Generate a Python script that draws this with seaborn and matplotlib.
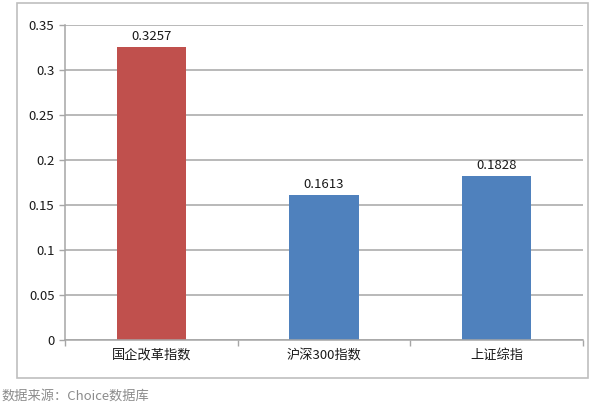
import matplotlib
matplotlib.use("Agg")
import matplotlib.pyplot as plt
import seaborn as sns
import pandas as pd
from matplotlib.patches import Rectangle
from matplotlib.ticker import FuncFormatter

categories = ["国企改革指数", "沪深300指数", "上证综指"]
values = [0.3257, 0.1613, 0.1828]
value_labels = ["0.3257", "0.1613", "0.1828"]
bar_colors = ["#C0504D", "#4F81BD", "#4F81BD"]
source_note = "数据来源：Choice数据库"

sns.set_theme(style="white")
plt.rcParams['font.family'] = ['Noto Sans CJK SC', 'DejaVu Sans']

df = pd.DataFrame({"index": categories, "value": values})

fig = plt.figure(figsize=(6, 4.2), dpi=100)
ax = fig.add_axes([0.108, 0.19, 0.864, 0.75])

sns.barplot(data=df, x="index", y="value", hue="index", palette=bar_colors,
            width=0.4, legend=False, ax=ax, saturation=1, linewidth=0)

for cont, lab in zip(ax.containers, value_labels):
    ax.bar_label(cont, labels=[lab], padding=3, fontsize=9.5, color="#1A1A1A")

ax.set_ylim(0, 0.35)
ax.set_xlim(-0.5, 2.5)
ax.set_yticks([i * 0.05 for i in range(8)])
ax.yaxis.set_major_formatter(FuncFormatter(lambda v, p: f"{round(v, 2):g}"))
ax.grid(axis="y", color="#A6A6A6", linewidth=1.1)
ax.set_axisbelow(True)
ax.set_xlabel("")
ax.set_ylabel("")

for s in ["top", "right"]:
    ax.spines[s].set_visible(False)
for s in ["left", "bottom"]:
    ax.spines[s].set_color("#A6A6A6")
    ax.spines[s].set_linewidth(1.1)

ax.tick_params(axis="y", length=4, width=1, color="#A6A6A6", labelsize=9.5, labelcolor="#1A1A1A", left=True)
ax.tick_params(axis="x", length=0, labelsize=9.5, labelcolor="#1A1A1A", pad=6)
ax.set_xticks([-0.5, 0.5, 1.5, 2.5], minor=True)
ax.tick_params(axis="x", which="minor", length=4, width=1, color="#A6A6A6", bottom=True)

fig.patches.append(Rectangle((0.028, 0.1), 0.952, 0.893, transform=fig.transFigure,
                             fill=False, edgecolor="#BFBFBF", linewidth=1.2))
fig.text(0.003, 0.057, source_note, fontsize=9.5, color="#8C8C8C", va="center", ha="left")

fig.savefig("out.png", dpi=100)
